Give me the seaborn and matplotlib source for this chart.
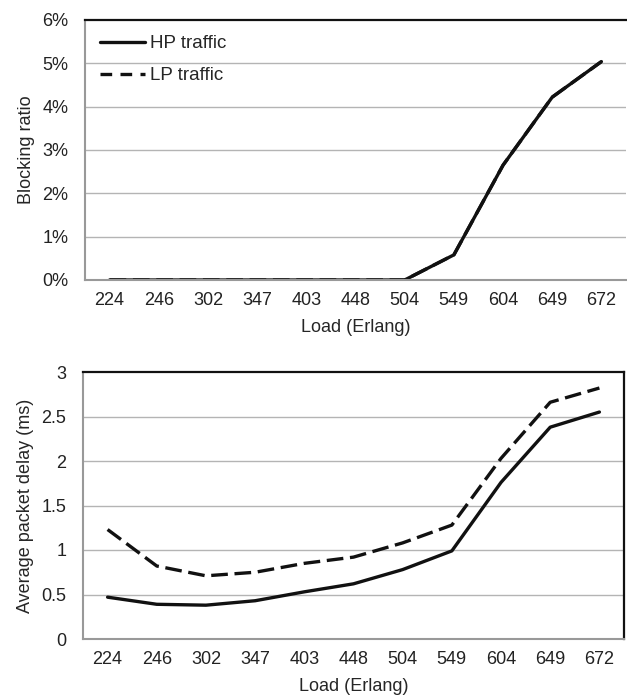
import matplotlib
matplotlib.use("Agg")
import matplotlib.pyplot as plt
import numpy as np
import pandas as pd
import seaborn as sns
from matplotlib.ticker import FixedLocator, FuncFormatter

loads = ["224", "246", "302", "347", "403", "448", "504", "549", "604", "649", "672"]

# blocking ratio (%) -- HP and LP curves coincide in the source
block_hp = [0.0, 0.0, 0.0, 0.0, 0.0, 0.0, 0.0, 0.58, 2.65, 4.22, 5.04]
block_lp = [0.0, 0.0, 0.0, 0.0, 0.0, 0.0, 0.0, 0.58, 2.65, 4.22, 5.04]

# average packet delay (ms)
delay_hp = [0.47, 0.39, 0.38, 0.43, 0.53, 0.62, 0.78, 0.99, 1.76, 2.38, 2.55]
delay_lp = [1.23, 0.82, 0.71, 0.75, 0.85, 0.92, 1.08, 1.28, 2.03, 2.66, 2.82]

sns.set_style("white")
plt.rcParams["font.family"] = ["Liberation Sans", "DejaVu Sans"]

FS = 13
GRID = "#b4b4b4"
SPINE = "#999999"
DASH = (5.0, 2.0)


def long_frame(hp, lp):
    return pd.DataFrame({
        "load": loads * 2,
        "x": list(range(len(loads))) * 2,
        "value": hp + lp,
        "series": ["HP traffic"] * len(loads) + ["LP traffic"] * len(loads),
    })


def style_axis(ax, ymax, ystep, fmt, right_spine=True):
    ax.set_xlim(-0.5, len(loads) - 0.5)
    ax.set_ylim(0, ymax)
    yt = np.arange(0, ymax + ystep / 2, ystep)
    ax.set_yticks(yt)
    ax.yaxis.set_major_formatter(FuncFormatter(fmt))
    for y in yt[1:-1]:
        ax.axhline(y, color=GRID, lw=1.0, zorder=0)
    ax.set_xticks(range(len(loads)))
    ax.set_xticklabels(loads)
    ax.xaxis.set_minor_locator(FixedLocator(np.arange(-0.5, len(loads), 1.0)))
    ax.tick_params(axis="x", which="major", length=0, pad=9, colors="#222222", labelsize=FS)
    ax.tick_params(axis="x", which="minor", length=5, width=1, color=SPINE)
    ax.tick_params(axis="y", length=5, width=1, color=SPINE, pad=7,
                   labelcolor="#222222", labelsize=FS)
    ax.spines["left"].set_color(SPINE)
    ax.spines["left"].set_linewidth(1.5)
    ax.spines["bottom"].set_color(SPINE)
    ax.spines["bottom"].set_linewidth(1.5)
    ax.spines["top"].set_color("#111111")
    ax.spines["top"].set_linewidth(1.6)
    if right_spine:
        ax.spines["right"].set_color("#111111")
        ax.spines["right"].set_linewidth(1.6)
    else:
        ax.spines["right"].set_visible(False)
    ax.set_xlabel("Load (Erlang)", labelpad=7, fontsize=FS)


fig = plt.figure(figsize=(6.27, 6.95), dpi=100)
ax1 = fig.add_axes([85 / 627, 1 - 280 / 695, 541 / 627, 260 / 695])
ax2 = fig.add_axes([83 / 627, 1 - 639 / 695, 541 / 627, 267 / 695])

styles = {"HP traffic": "", "LP traffic": DASH}

# top: blocking ratio; draw LP first so HP sits on top of it
df1 = long_frame(block_hp, block_lp)
sns.lineplot(data=df1, x="x", y="value", hue="series", style="series",
             hue_order=["LP traffic", "HP traffic"], style_order=["LP traffic", "HP traffic"],
             palette={"HP traffic": "#111111", "LP traffic": "#111111"},
             dashes=styles, lw=2.4, sort=False, ax=ax1, legend=False)
style_axis(ax1, 6, 1, lambda v, _: f"{v:.0f}%", right_spine=False)
ax1.set_ylabel("Blocking ratio", labelpad=5, fontsize=FS)

h_hp, = ax1.plot([], [], color="#111111", lw=2.4)
h_lp, = ax1.plot([], [], color="#111111", lw=2.4, dashes=(3.5, 2.5))
ax1.legend([h_hp, h_lp], ["HP traffic", "LP traffic"], loc="upper left",
           frameon=False, handlelength=2.4, handletextpad=0.25, labelspacing=0.8,
           bbox_to_anchor=(0.0, 1.0), borderaxespad=0.4, fontsize=FS + 0.5)

# bottom: packet delay
df2 = long_frame(delay_hp, delay_lp)
sns.lineplot(data=df2, x="x", y="value", hue="series", style="series",
             hue_order=["LP traffic", "HP traffic"], style_order=["LP traffic", "HP traffic"],
             palette={"HP traffic": "#111111", "LP traffic": "#111111"},
             dashes=styles, lw=2.4, sort=False, ax=ax2, legend=False)
style_axis(ax2, 3, 0.5, lambda v, _: f"{v:g}", right_spine=True)
ax2.set_ylabel("Average packet delay (ms)", labelpad=5, fontsize=FS)

fig.savefig("out.png", dpi=100)
